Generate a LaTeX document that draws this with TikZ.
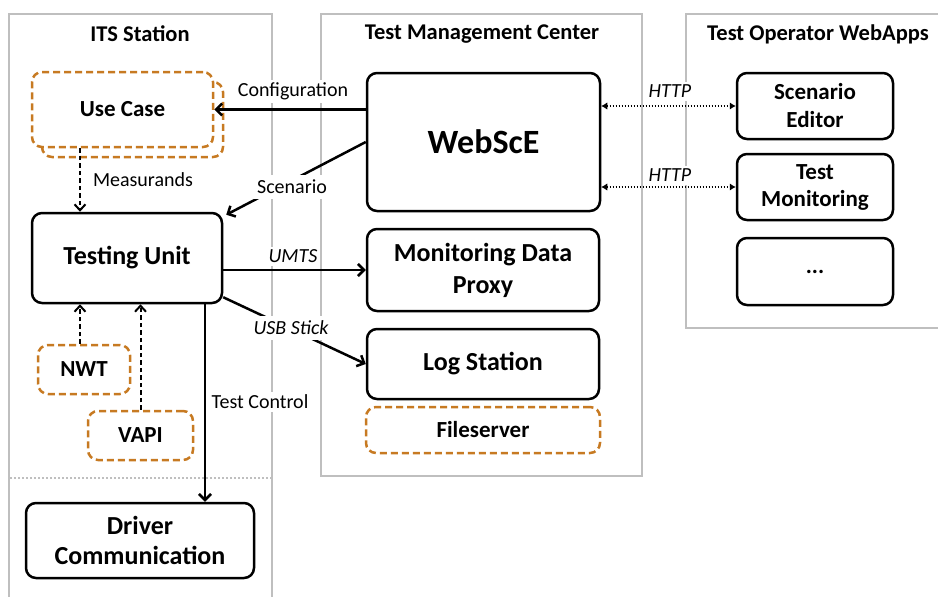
\documentclass[tikz,border=0pt]{standalone}
\usepackage{fontspec}
\setmainfont{Carlito}
\usetikzlibrary{arrows.meta,calc}
\definecolor{grp}{HTML}{BFBFBF}
\definecolor{org}{HTML}{C77A22}
\begin{document}
\begin{tikzpicture}[x=1pt,y=-1pt,
  grpbox/.style={draw=grp,line width=2.3pt},
  bx/.style={draw=black,line width=2.5pt,rounded corners=10pt,fill=white,align=center,inner sep=0pt},
  obx/.style={draw=org,line width=2.5pt,rounded corners=10pt,dash pattern=on 7pt off 4pt,fill=white,align=center,inner sep=0pt},
  fa/.style={font=\fontsize{26}{31}\selectfont\bfseries},
  fb/.style={font=\fontsize{23}{28}\selectfont\bfseries},
  ttl/.style={font=\fontsize{22.5}{27}\selectfont\bfseries},
  lbl/.style={font=\fontsize{20}{24}\selectfont,fill=white,inner sep=3pt},
  ilbl/.style={lbl,font=\fontsize{20}{24}\selectfont\itshape},
  arr/.style={line width=2.5pt,-{Straight Barb[length=6pt,width=12pt]}},
  darr/.style={line width=2pt,dash pattern=on 4.5pt off 3pt,-{Straight Barb[length=6pt,width=11pt]}},
  harr/.style={line width=2.3pt,dash pattern=on 1.6pt off 1.4pt,{Latex[length=6pt,width=7.5pt]}-{Latex[length=6pt,width=7.5pt]}}
]
\useasboundingbox (0,0) rectangle (938,597);
\fill[white] (0,0) rectangle (938,597);

% group boxes
\draw[grpbox] (9,14) rectangle (272,620);
\draw[grpbox] (321,14) rectangle (642,476);
\draw[grpbox] (686,14) rectangle (960,328);
\draw[grp,line width=1.8pt,dash pattern=on 2pt off 2pt] (10,478) -- (271,478);

% titles
\node[ttl] (t1) at (140,34) {ITS Station};
\node[ttl] (t2) at (482,34) {Test Management Center};
\node[ttl] (t3) at (818,34) {Test Operator WebApps};

% ITS station nodes
\node[obx,minimum width=181pt,minimum height=75pt] (ucb) at (132.5,119.5) {};
\node[obx,fb,minimum width=181pt,minimum height=75pt] (uc) at (122.5,109.5) {Use Case};
\node[bx,fa,minimum width=190pt,minimum height=90pt] (tu) at (127,258) {Testing Unit};
\node[obx,fb,minimum width=92pt,minimum height=49pt] (nwt) at (84,369.5) {NWT};
\node[obx,fb,minimum width=105pt,minimum height=49pt] (vapi) at (140.5,435.5) {VAPI};
\node[bx,font=\fontsize{26}{30}\selectfont\bfseries,minimum width=228pt,minimum height=75pt] (drv) at (140,540.5) {Driver\\Communication};

% Test management center nodes
\node[bx,font=\fontsize{34}{40}\selectfont\bfseries,minimum width=233pt,minimum height=138pt] (web) at (483.5,142) {WebScE};
\node[bx,font=\fontsize{26}{32}\selectfont\bfseries,minimum width=232pt,minimum height=82pt] (mdp) at (483,270) {Monitoring Data\\Proxy};
\node[bx,fa,minimum width=232pt,minimum height=70pt] (log) at (483,364) {Log Station};
\node[obx,fb,minimum width=234pt,minimum height=46pt] (fs) at (483,430) {Fileserver};

% WebApps nodes
\node[bx,fb,minimum width=156pt,minimum height=66pt] (sced) at (815,106) {Scenario\\Editor};
\node[bx,font=\fontsize{23}{27}\selectfont\bfseries,minimum width=156pt,minimum height=66pt] (tmon) at (815,187) {Test\\Monitoring};
\node[bx,fb,minimum width=156pt,minimum height=67pt] (more) at (815,271.5) {...};

% connectors
\draw[arr] (web.west |- uc.east) -- (uc.east);
\draw[arr] (web.west) -- ([xshift=3pt,yshift=-3pt]tu.north east);
\draw[arr] (tu.east |- mdp.west) -- (mdp.west);
\draw[arr] ([yshift=7pt]tu.south east) -- (log.west);
\draw[arr] ([xshift=78pt]tu.south) -- ([xshift=78pt]tu.south |- drv.north);
\draw[darr] ([xshift=-42.5pt]uc.south) -- ([xshift=-42.5pt]uc.south |- tu.north);
\draw[darr] ([xshift=-4pt]nwt.north) -- ([xshift=-4pt]nwt.north |- tu.south);
\draw[darr] (vapi.north) -- (vapi.north |- tu.south);
\draw[harr] (web.east |- sced.west) -- (sced.west);
\draw[harr] (web.east |- tmon.west) -- (tmon.west);

% labels
\node[lbl,anchor=south] (lconf) at (293,103) {Configuration};
\node[lbl,inner sep=5pt] (lscen) at (292,187) {Scenario};
\node[ilbl,anchor=south] (lumts) at (293,266) {UMTS};
\node[ilbl,inner sep=5pt] (lusb) at (291,328) {USB Stick};
\node[lbl] (ltc) at (260,402) {Test Control};
\node[lbl] (lmeas) at (143,180) {Measurands};
\node[ilbl,anchor=south] (lh1) at (670,101) {HTTP};
\node[ilbl,anchor=south] (lh2) at (670,185) {HTTP};
\end{tikzpicture}
\end{document}
